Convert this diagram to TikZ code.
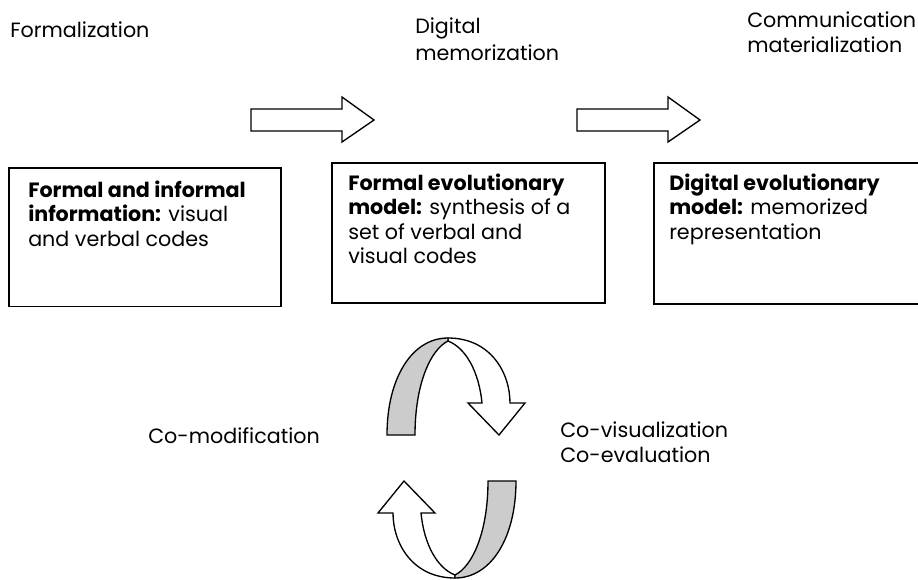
\documentclass[tikz,border=0pt]{standalone}
\usepackage{fontspec}
\setmainfont{Poppins}
\begin{document}
\begin{tikzpicture}[x=0.75pt,y=-0.75pt,
  lbl/.style={inner sep=0pt, anchor=north west, align=left, font=\fontsize{15.5}{19.5}\selectfont},
  boxlbl/.style={inner sep=0pt, anchor=north west, align=left, font=\fontsize{15.5}{18.4}\selectfont},
  box/.style={draw, line width=1.3pt, inner sep=0pt, anchor=north west},
  bigarrow/.style={draw, line width=1pt, fill=white, line join=miter},
  ribbon/.style={draw, line width=1pt, fill=white, line join=miter},
  ribbonfront/.style={ribbon, fill=gray!40},
]
\useasboundingbox (0,0) rectangle (918,579);
\clip (0,0) rectangle (918,579);

% top labels
\node[lbl] (formalization) at (10,21.5) {Formalization};
\node[lbl, font=\fontsize{15.5}{20}\selectfont] (digmem) at (415,17.5) {Digital\\memorization};
\node[lbl, font=\fontsize{15.5}{19}\selectfont] (commat) at (747,11.5) {Communication\\materialization};

% boxes
\node[box, minimum width=204pt, minimum height=104pt] (b1) at (8,167) {};
\node[box, minimum width=204.75pt, minimum height=105pt] (b2) at (331,162) {};
\node[box, minimum width=208pt, minimum height=105.75pt] (b3) at (653,162) {};

\node[boxlbl] (t1) at (28,180.5) {\textbf{Formal and informal}\\\textbf{information:} visual\\and verbal codes};
\node[boxlbl] (t2) at (348,173.5) {\textbf{Formal evolutionary}\\\textbf{model:} synthesis of a\\set of verbal and\\visual codes};
\node[boxlbl] (t3) at (669,173.5) {\textbf{Digital evolutionary}\\\textbf{model:} memorized\\representation};

% block arrows
\draw[bigarrow] (251,109) -- (342,109) -- (342,97) -- (374,120) -- (342,142) -- (342,131) -- (251,131) -- cycle;
\draw[bigarrow] (577,109) -- (668,109) -- (668,97) -- (700,120) -- (668,142) -- (668,131) -- (577,131) -- cycle;

% cycle arrows
\draw[ribbon] (448,338) .. controls (490,338) and (510,372) .. (510,403) -- (525,403) -- (499,435) -- (468,403) -- (482,403) .. controls (479,372) and (466,348) .. (448,341) -- cycle;
\draw[ribbonfront] (387,435) .. controls (387,378) and (412,338) .. (448,338) -- (448,341) .. controls (430,350) and (415,385) .. (415,435) -- cycle;
\begin{scope}[rotate around={180:(451.5,458)}]
\draw[ribbon] (448,338) .. controls (490,338) and (510,372) .. (510,403) -- (525,403) -- (499,435) -- (468,403) -- (482,403) .. controls (479,372) and (466,348) .. (448,341) -- cycle;
\draw[ribbonfront] (387,435) .. controls (387,378) and (412,338) .. (448,338) -- (448,341) .. controls (430,350) and (415,385) .. (415,435) -- cycle;
\end{scope}

\node[lbl] (comod) at (148,427.5) {Co-modification};
\node[lbl, font=\fontsize{15.5}{18.75}\selectfont] (covis) at (560,421.5) {Co-visualization\\Co-evaluation};
\end{tikzpicture}
\end{document}
